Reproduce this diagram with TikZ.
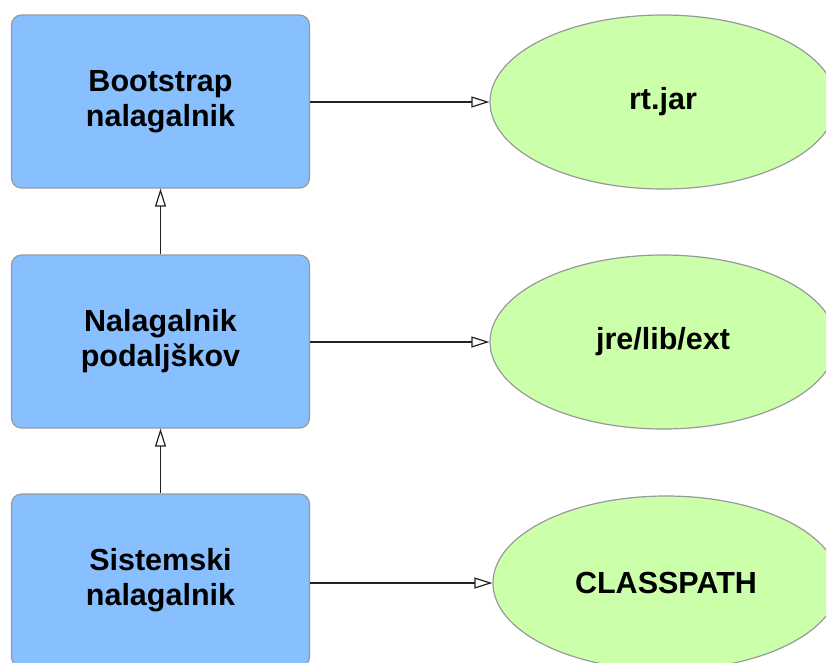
\documentclass[tikz,border=0pt]{standalone}
\usepackage{fontspec}
\setmainfont{Liberation Sans}
\usetikzlibrary{shapes.geometric,arrows.meta}
\definecolor{boxblue}{HTML}{87BFFF}
\definecolor{leafgreen}{HTML}{CCFFAA}
\definecolor{rimgray}{HTML}{999999}
\definecolor{linedark}{HTML}{222222}
\begin{document}
\begin{tikzpicture}[x=1pt,y=-1pt,
  loader/.style={rectangle, rounded corners=10pt, draw=rimgray, line width=1.2pt,
    fill=boxblue, minimum width=298pt, minimum height=173pt, inner sep=0pt,
    align=center, font=\fontsize{30.5}{35}\selectfont\bfseries},
  source/.style={ellipse, draw=rimgray, line width=1.2pt, fill=leafgreen,
    minimum width=346pt, minimum height=174pt, inner sep=0pt,
    font=\fontsize{30.5}{35}\selectfont\bfseries},
  link/.style={draw=linedark, line width=1.3pt,
    -{Triangle[open, length=18pt, width=11pt, line width=1.2pt]}}]
\useasboundingbox (0,0) rectangle (826,662);

% class loaders
\node[loader] (boot) at (160.5,101.5) {Bootstrap\\nalagalnik};
\node[loader] (ext)  at (160.5,341.5) {Nalagalnik\\podaljškov};
\node[loader] (sys)  at (160.5,580.5) {Sistemski\\nalagalnik};

% class sources
\node[source] (rt)  at (663,102) {rt.jar};
\node[source] (lib) at (663,342) {jre/lib/ext};
\node[source] (cp)  at (666,583) {CLASSPATH};

% delegation upwards
\draw[link] (ext.north) -- (boot.south);
\draw[link] (sys.north) -- (ext.south);

% loading from sources
\draw[link] (boot.east |- rt.west) -- (rt.west);
\draw[link] (ext.east |- lib.west) -- (lib.west);
\draw[link] (sys.east |- cp.west) -- (cp.west);
\end{tikzpicture}
\end{document}
